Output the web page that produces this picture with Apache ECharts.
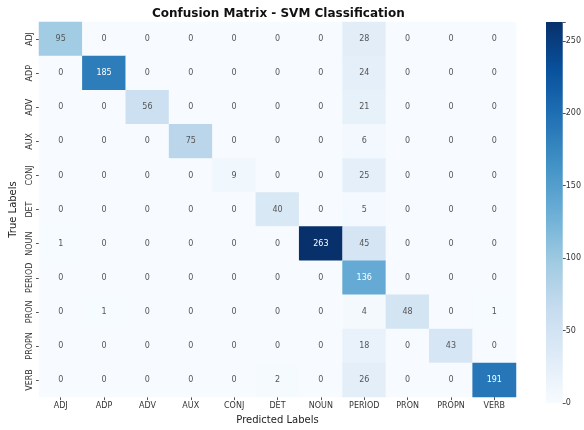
<!DOCTYPE html>
<html><head><meta charset="utf-8">
<script src="https://cdn.jsdelivr.net/npm/echarts@6/dist/echarts.min.js"></script>
<style>html,body{margin:0;padding:0;background:#fff}#c{width:584px;height:430px}</style>
</head><body><div id="c"></div>
<script>
const labels = ['ADJ','ADP','ADV','AUX','CONJ','DET','NOUN','PERIOD','PRON','PROPN','VERB'];
const rowADJ    = [95,0,0,0,0,0,0,28,0,0,0];
const rowADP    = [0,185,0,0,0,0,0,24,0,0,0];
const rowADV    = [0,0,56,0,0,0,0,21,0,0,0];
const rowAUX    = [0,0,0,75,0,0,0,6,0,0,0];
const rowCONJ   = [0,0,0,0,9,0,0,25,0,0,0];
const rowDET    = [0,0,0,0,0,40,0,5,0,0,0];
const rowNOUN   = [1,0,0,0,0,0,263,45,0,0,0];
const rowPERIOD = [0,0,0,0,0,0,0,136,0,0,0];
const rowPRON   = [0,1,0,0,0,0,0,4,48,0,1];
const rowPROPN  = [0,0,0,0,0,0,0,18,0,43,0];
const rowVERB   = [0,0,0,0,0,2,0,26,0,0,191];
const colorbarTicks = [0,50,100,150,200,250];
const vmax = 263;

const rows = [rowADJ,rowADP,rowADV,rowAUX,rowCONJ,rowDET,rowNOUN,rowPERIOD,rowPRON,rowPROPN,rowVERB];
const blues = ['#f7fbff','#deebf7','#c6dbef','#9ecae1','#6baed6','#4292c6','#2171b5','#08519c','#08306b'];
const data = [];
rows.forEach((r,i)=>r.forEach((v,j)=>data.push([j,i,v])));

const font = 'DejaVu Sans';
const chart = echarts.init(document.getElementById('c'));
chart.setOption({
  animation:false,
  textStyle:{fontFamily:font},
  title:{text:'Confusion Matrix - SVM Classification',left:152,top:8,padding:0,
    textStyle:{fontFamily:font,fontSize:12,fontWeight:'bold',color:'#111'}},
  grid:[
    {left:39,top:22,width:477,height:381},
    {left:546,top:22,width:20,height:381}
  ],
  xAxis:[
    {type:'category',data:labels,gridIndex:0,
      axisLine:{show:false},axisTick:{show:true,length:3,alignWithLabel:true,interval:0,lineStyle:{color:'#555'}},
      axisLabel:{fontSize:8,color:'#333',margin:5,interval:0},
      name:'Predicted Labels',nameLocation:'middle',nameGap:17,
      nameTextStyle:{fontSize:10,color:'#222'}},
    {type:'category',data:['cb'],gridIndex:1,show:false}
  ],
  yAxis:[
    {type:'category',data:labels,gridIndex:0,inverse:true,
      axisLine:{show:false},axisTick:{show:true,length:3,alignWithLabel:true,interval:0,lineStyle:{color:'#555'}},
      axisLabel:{fontSize:8,color:'#333',rotate:90,margin:5,interval:0},
      name:'True Labels',nameLocation:'middle',nameGap:19,
      nameTextStyle:{fontSize:10,color:'#222'}},
    {type:'value',gridIndex:1,position:'right',min:0,max:vmax,interval:50,
      axisLine:{show:false},splitLine:{show:false},
      axisTick:{show:true,length:3,lineStyle:{color:'#555'}},
      axisLabel:{fontSize:8,color:'#333',margin:3,
        formatter:v=>colorbarTicks.includes(v)?String(v):''}}
  ],
  visualMap:{show:false,min:0,max:vmax,seriesIndex:0,inRange:{color:blues}},
  series:[
    {type:'heatmap',xAxisIndex:0,yAxisIndex:0,data:data,
      label:{show:true,fontSize:8,fontFamily:font,color:'#555',
        formatter:p=>{const v=p.value[2]; return v>vmax*0.5?'{w|'+v+'}':String(v);},
        rich:{w:{color:'#fff',fontSize:8,fontFamily:font}}},
      itemStyle:{borderWidth:0}},
    {type:'bar',xAxisIndex:1,yAxisIndex:1,data:[vmax],barWidth:'100%',silent:true,
      itemStyle:{color:new echarts.graphic.LinearGradient(0,1,0,0,
        blues.map((c,i)=>({offset:i/(blues.length-1),color:c})))}}
  ]
});
</script></body></html>
